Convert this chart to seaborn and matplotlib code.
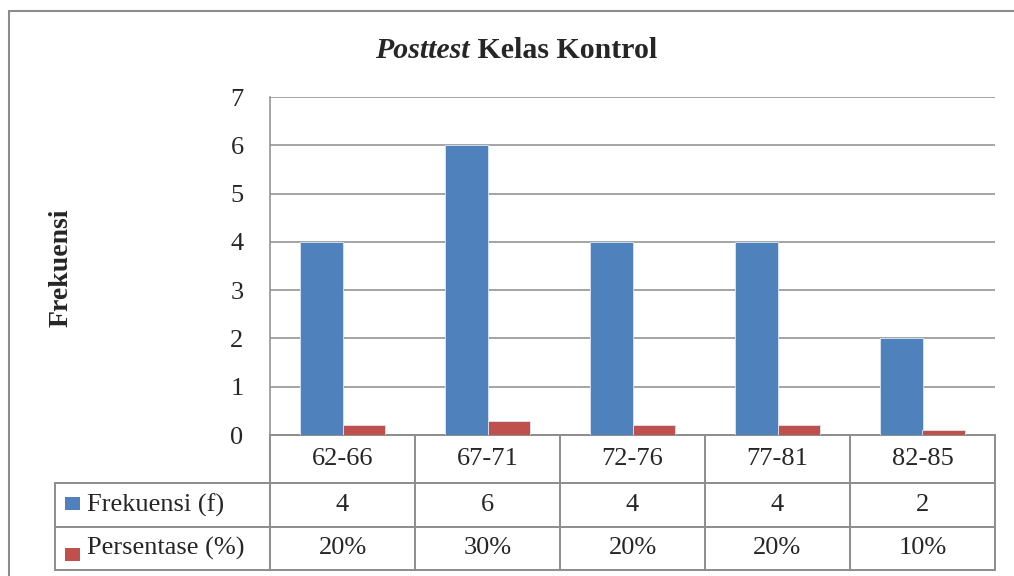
import matplotlib
matplotlib.use("Agg")
import matplotlib.pyplot as plt
import seaborn as sns
import pandas as pd
from matplotlib.lines import Line2D
from matplotlib.patches import Rectangle
from matplotlib.transforms import blended_transform_factory

# data
kelas = ["62-66", "67-71", "72-76", "77-81", "82-85"]
frekuensi = [4, 6, 4, 4, 2]
persentase = [0.20, 0.30, 0.20, 0.20, 0.10]
seri = ["Frekuensi (f)", "Persentase (%)"]
warna = ["#4F81BD", "#C0504D"]
y_ticks = [0, 1, 2, 3, 4, 5, 6, 7]

df = pd.DataFrame({
    "kelas": kelas * 2,
    "seri": [seri[0]] * len(kelas) + [seri[1]] * len(kelas),
    "nilai": frekuensi + persentase,
})

sns.set_style("white")
plt.rcParams["font.family"] = ["Liberation Serif", "DejaVu Serif"]

W, H = 1014, 576
fig = plt.figure(figsize=(W / 100, H / 100), dpi=100)
ax = fig.add_axes([270 / W, 1 - 435 / H, 725 / W, 338 / H])

sns.barplot(data=df, x="kelas", y="nilai", hue="seri", palette=warna,
            width=0.58, saturation=1, ax=ax, legend=False, zorder=3,
            edgecolor="#DCE6F2", linewidth=0.6)

grid_c = "#8C8C8C"
fs = 19
ax.set_xlim(-0.5, len(kelas) - 0.5)
ax.set_ylim(0, 7)
ax.set_yticks(y_ticks)
ax.set_yticklabels([str(t) for t in y_ticks], fontsize=fs)
ax.tick_params(axis="y", length=0, pad=19)
ax.set_xticks([])
ax.set_xlabel("")
ax.set_ylabel("")
ax.yaxis.grid(True, color=grid_c, lw=1.1, zorder=0)
for s in ["top", "right", "bottom"]:
    ax.spines[s].set_visible(False)
ax.spines["left"].set_color(grid_c)
ax.spines["left"].set_linewidth(1.1)

# data table under the chart
tr = blended_transform_factory(ax.transData, ax.transAxes)
px = 1 / 338.0
r0, r1, r2, r3 = 0, -48 * px, -92 * px, -135 * px
left_lbl = -0.5 - 215 / 145.0
right = len(kelas) - 0.5
lw = 1.4

def garis(xs, ys):
    ax.add_line(Line2D(xs, ys, transform=tr, color=grid_c, lw=lw, clip_on=False))

garis([-0.5, right], [r0, r0])
for yy in [r1, r2, r3]:
    garis([left_lbl, right], [yy, yy])
for i in range(len(kelas) + 1):
    garis([i - 0.5, i - 0.5], [r0, r3])
garis([left_lbl, left_lbl], [r1, r3])

for i, k in enumerate(kelas):
    ax.text(i, (r0 + r1) / 2, k, transform=tr, ha="center", va="center", fontsize=fs)
    ax.text(i, (r1 + r2) / 2, str(frekuensi[i]), transform=tr, ha="center", va="center", fontsize=fs)
    ax.text(i, (r2 + r3) / 2, f"{persentase[i]:.0%}", transform=tr, ha="center", va="center", fontsize=fs)

sq_x = -0.5 - 205 / 145.0
for (ya, yb), off, nama, c in zip([(r1, r2), (r2, r3)], [-2, 6], seri, warna):
    yc = (ya + yb) / 2 - off * px
    ax.add_patch(Rectangle((sq_x, yc - 6.5 * px), 15 / 145.0, 13 * px, transform=tr,
                           facecolor=c, edgecolor="none", clip_on=False))
    ax.text(sq_x + 22 / 145.0, (ya + yb) / 2, nama, transform=tr, ha="left", va="center", fontsize=fs)

# title: italic part + bold part
fig.canvas.draw()
rend = fig.canvas.get_renderer()
t1 = fig.text(0, 1 - 58 / H, "Posttest", fontsize=21.5, fontweight="bold", style="italic", va="baseline")
t2 = fig.text(0, 1 - 58 / H, " Kelas Kontrol", fontsize=21.5, fontweight="bold", va="baseline")
w1 = t1.get_window_extent(rend).width
w2 = t2.get_window_extent(rend).width
x0 = 516 - (w1 + w2) / 2
t1.set_x(x0 / W)
t2.set_x((x0 + w1) / W)

fig.text(61 / W, 1 - 268 / H, "Frekuensi", rotation=90, fontsize=20, fontweight="bold",
         ha="center", va="center")

# chart area border (left and top visible)
fig.add_artist(Line2D([9 / W, 9 / W], [0, 1 - 11 / H], color="#8C8C8C", lw=1.5))
fig.add_artist(Line2D([9 / W, 1.0], [1 - 11 / H, 1 - 11 / H], color="#8C8C8C", lw=1.5))

fig.savefig("out.png", dpi=100, facecolor="white")
